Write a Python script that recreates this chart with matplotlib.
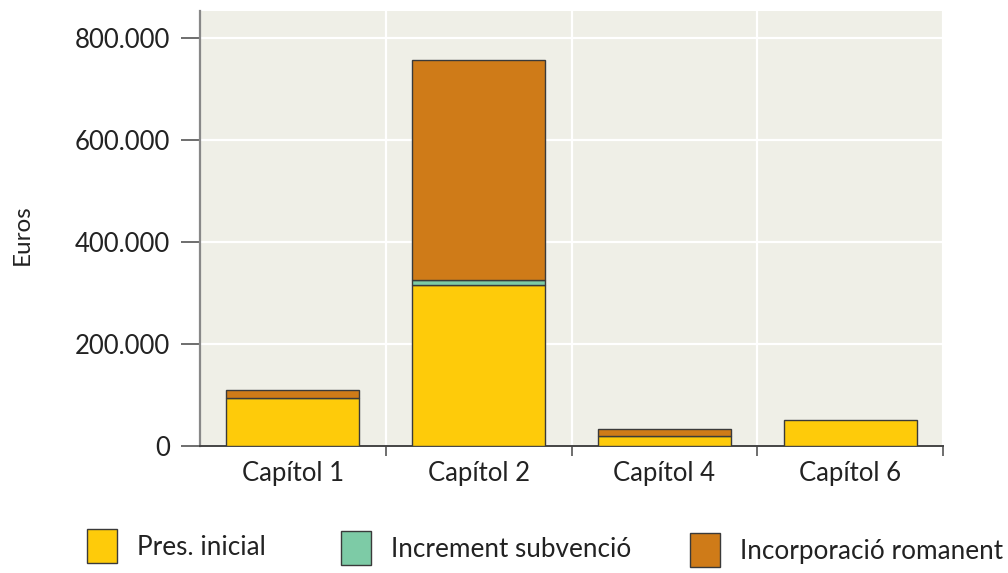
import matplotlib
matplotlib.use("Agg")

import matplotlib.pyplot as plt
import matplotlib.ticker as mticker
from matplotlib.patches import Patch
import numpy as np

# ── Data ───────────────────────────────────────────────────────────────────────
capitols      = ["Capítol 1", "Capítol 2", "Capítol 4", "Capítol 6"]
pres_inicial  = [94000, 315000, 19000, 51000]
increment_sub = [0, 11000, 0, 0]
romanent      = [16000, 430000, 15000, 0]
series_names  = ["Pres. inicial", "Increment subvenció", "Incorporació romanent"]
y_ticks       = [0, 200000, 400000, 600000, 800000]

# ── Style ──────────────────────────────────────────────────────────────────────
COLOR_PRES  = "#FECB0A"
COLOR_SUBV  = "#7DCBA6"
COLOR_ROM   = "#CF7B18"
BG          = "#EFEFE7"
EDGE        = "#3a3a3a"
FONT        = ["Lato", "DejaVu Sans"]

plt.rcParams["font.family"] = FONT

fig = plt.figure(figsize=(10.08, 5.73), dpi=100)
ax = fig.add_axes([200 / 1008, 1 - 446 / 573, 743 / 1008, 435 / 573])
ax.set_facecolor(BG)

x = np.arange(len(capitols))
width = 0.716
pres = np.array(pres_inicial)
subv = np.array(increment_sub)
rom = np.array(romanent)
colors = [COLOR_PRES, COLOR_SUBV, COLOR_ROM]

kw = dict(width=width, edgecolor=EDGE, linewidth=1.0, zorder=3)
b1 = ax.bar(x, pres, color=COLOR_PRES, **kw)
b2 = ax.bar(x, subv, bottom=pres, color=COLOR_SUBV, **kw)
b3 = ax.bar(x, rom, bottom=pres + subv, color=COLOR_ROM, **kw)
# hide zero-height segments
for bars, vals in ((b2, subv), (b3, rom)):
    for r, v in zip(bars, vals):
        if v == 0:
            r.set_visible(False)

ax.set_xlim(-0.5, len(capitols) - 0.5)
ax.set_ylim(0, 853000)

ax.set_yticks(y_ticks)
ax.yaxis.set_major_formatter(
    mticker.FuncFormatter(lambda v, _: f"{int(v):,}".replace(",", "."))
)
ax.set_xticks(x)
ax.set_xticklabels(capitols)
ax.set_xticks(np.arange(len(capitols)) + 0.5, minor=True)

ax.tick_params(axis="y", length=13.7, width=1.2, color="#555555", pad=8,
               labelsize=18.5, labelcolor="#222222")
ax.tick_params(axis="x", which="major", length=0, pad=11,
               labelsize=18.5, labelcolor="#222222")
ax.tick_params(axis="x", which="minor", length=7.5, width=1.2, color="#555555")

ax.grid(axis="y", color="white", linewidth=1.6, zorder=1)
ax.grid(axis="x", which="minor", color="white", linewidth=1.6, zorder=1)
ax.set_axisbelow(True)

for s in ("top", "right"):
    ax.spines[s].set_visible(False)
ax.spines["left"].set_color("#888888")
ax.spines["left"].set_linewidth(1.6)
ax.spines["bottom"].set_color("#444444")
ax.spines["bottom"].set_linewidth(1.4)

fig.text(22 / 1008, 1 - 235 / 573, "Euros", rotation=90, ha="center",
         va="center", fontsize=17.5, color="#222222")

# one legend per entry, placed where the reference puts them
legend_x = [87, 341, 690]
legend_y = [10, 8, 6]
for name, c, lx, ly in zip(series_names, colors, legend_x, legend_y):
    leg = fig.legend(handles=[Patch(facecolor=c, edgecolor=EDGE, linewidth=1.0)],
                     labels=[name], loc="lower left",
                     bbox_to_anchor=(lx / 1008, ly / 573),
                     frameon=False, fontsize=18.8, handlelength=1.15,
                     handleheight=1.6, handletextpad=0.75, borderpad=0,
                     borderaxespad=0, labelcolor="#222222")

fig.savefig("out.png", dpi=100)
